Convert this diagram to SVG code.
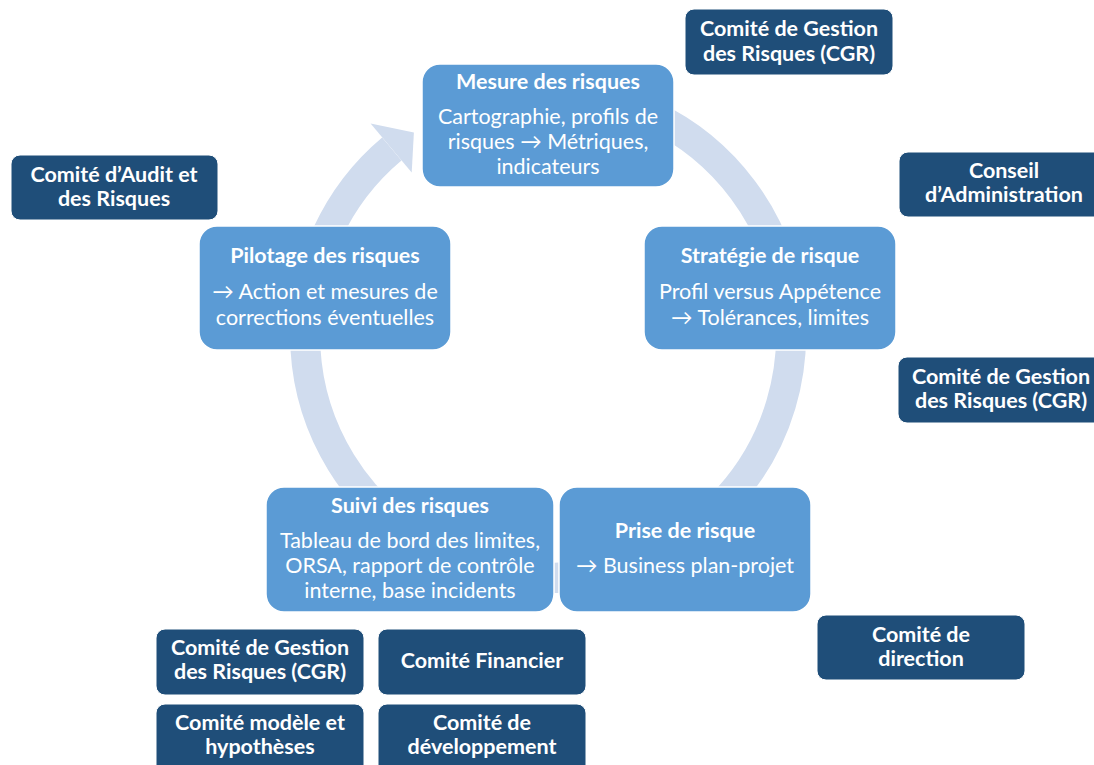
<svg xmlns="http://www.w3.org/2000/svg" width="1094" height="765" viewBox="0 0 1094 765">
<style>
.p{fill:#5B9BD5;stroke:#FFFFFF;stroke-width:1.5}
.d{fill:#1F4E79;stroke:#FFFFFF;stroke-width:1}
text{font-family:Lato,"Open Sans","Liberation Sans",sans-serif;fill:#FFFFFF;text-anchor:middle;font-size:21.5px}
.t{font-weight:bold}
.b{font-weight:bold}
</style>
<rect width="1094" height="765" fill="#FFFFFF"/>
<g id="connectors">
<path d="M548,92 A243,243 0 1 1 391.8,148.9" fill="none" stroke="#D0DCEE" stroke-width="30"/>
<path d="M370.6,123.6 L413.9,132.4 L411.7,172.6 Z" fill="#D0DCEE"/>
</g>
<g id="mesure">
<rect class="p" x="422" y="64" width="252" height="123" rx="18"/>
<text class="t" x="548" y="89">Mesure des risques</text>
<text x="548" y="124">Cartographie, profils de</text>
<text x="548" y="149">risques → Métriques,</text>
<text x="548" y="174">indicateurs</text>
</g>
<g id="strategie">
<rect class="p" x="644" y="226" width="252" height="124" rx="18"/>
<text class="t" x="770" y="263">Stratégie de risque</text>
<text x="770" y="299">Profil versus Appétence</text>
<text x="770" y="325">→ Tolérances, limites</text>
</g>
<g id="prise">
<rect class="p" x="559" y="487" width="252" height="125" rx="18"/>
<text class="t" x="685" y="538">Prise de risque</text>
<text x="685" y="573">→ Business plan-projet</text>
</g>
<g id="suivi">
<rect class="p" x="266" y="487" width="288" height="125" rx="18"/>
<text class="t" x="410" y="513">Suivi des risques</text>
<text x="410" y="548">Tableau de bord des limites,</text>
<text x="410" y="573">ORSA, rapport de contrôle</text>
<text x="410" y="598">interne, base incidents</text>
</g>
<g id="pilotage">
<rect class="p" x="199" y="226" width="252" height="124" rx="18"/>
<text class="t" x="325" y="263">Pilotage des risques</text>
<text x="325" y="299">→ Action et mesures de</text>
<text x="325" y="325">corrections éventuelles</text>
</g>
<g id="cgr-top">
<rect class="d" x="685" y="9" width="208" height="66" rx="9"/>
<text class="b" x="789" y="36">Comité de Gestion</text>
<text class="b" x="789" y="61">des Risques (CGR)</text>
</g>
<g id="conseil">
<rect class="d" x="899" y="152" width="210" height="65" rx="9"/>
<text class="b" x="1004" y="178">Conseil</text>
<text class="b" x="1004" y="202">d’Administration</text>
</g>
<g id="cgr-right">
<rect class="d" x="898" y="357" width="210" height="66" rx="9"/>
<text class="b" x="1001" y="384">Comité de Gestion</text>
<text class="b" x="1001" y="408">des Risques (CGR)</text>
</g>
<g id="audit">
<rect class="d" x="11" y="155" width="207" height="65" rx="9"/>
<text class="b" x="114" y="182">Comité d’Audit et</text>
<text class="b" x="114" y="206">des Risques</text>
</g>
<g id="direction">
<rect class="d" x="817" y="615" width="208" height="65" rx="9"/>
<text class="b" x="921" y="642">Comité de</text>
<text class="b" x="921" y="666">direction</text>
</g>
<g id="cgr-bottom">
<rect class="d" x="156" y="629" width="208" height="66" rx="9"/>
<text class="b" x="260" y="655">Comité de Gestion</text>
<text class="b" x="260" y="679">des Risques (CGR)</text>
</g>
<g id="financier">
<rect class="d" x="378" y="629" width="208" height="66" rx="9"/>
<text class="b" x="482" y="668">Comité Financier</text>
</g>
<g id="modele">
<rect class="d" x="156" y="704" width="208" height="70" rx="9"/>
<text class="b" x="260" y="730">Comité modèle et</text>
<text class="b" x="260" y="754">hypothèses</text>
</g>
<g id="developpement">
<rect class="d" x="378" y="704" width="208" height="70" rx="9"/>
<text class="b" x="482" y="730">Comité de</text>
<text class="b" x="482" y="754">développement</text>
</g>
</svg>
